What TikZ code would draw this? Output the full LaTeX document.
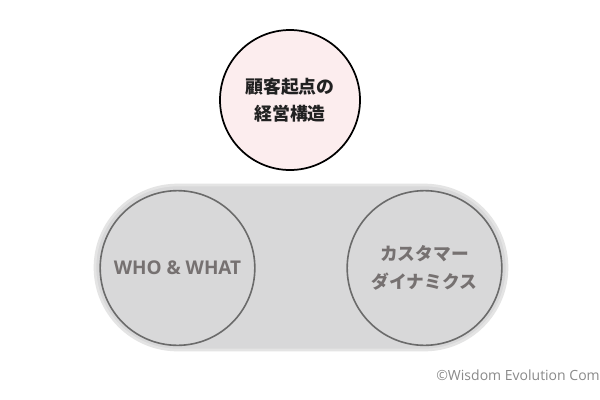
\documentclass[tikz,border=0pt]{standalone}
\usepackage{fontspec}
\setmainfont{Open Sans}
\newfontfamily\jp{Noto Sans CJK JP}
\definecolor{pinkfill}{HTML}{FCEDEE}
\definecolor{stadfill}{HTML}{D8D8D9}
\definecolor{stadedge}{HTML}{E4E4E4}
\definecolor{ringgray}{HTML}{6B6B6B}
\definecolor{txtgray}{HTML}{767171}
\definecolor{copygray}{HTML}{8A8A8A}
\tikzset{
  topcirc/.style={circle, draw=black, line width=1.3pt, fill=pinkfill, minimum size=105pt, inner sep=0pt},
  lowcirc/.style={circle, draw=ringgray, line width=1.2pt, minimum size=116pt, inner sep=0pt},
  toptext/.style={font=\jp\bfseries\fontsize{13.4pt}{20.5pt}\selectfont, text=black!87, align=center},
  lowtext/.style={font=\jp\bfseries\fontsize{13.3pt}{21.5pt}\selectfont, text=txtgray, align=center},
  whotext/.style={font=\bfseries\fontsize{14.2pt}{18pt}\selectfont, text=txtgray},
}
\begin{document}
\begin{tikzpicture}[x=0.75pt,y=-0.75pt]
\useasboundingbox (0,0) rectangle (600,400);
\fill[white] (0,0) rectangle (600,400);
% stadium
\draw[stadedge, fill=stadfill, line width=2pt, rounded corners=82.5*0.75pt]
  (95,185) rectangle (507,350);
\node[topcirc] (top) at (290,100) {};
\node[toptext] (toplbl) at (top.center) {顧客起点の\\経営構造};
\node[lowcirc] (left) at (177.5,268) {};
\node[whotext] (wholbl) at (left.center) {WHO \& WHAT};
\node[lowcirc] (right) at (424.5,268) {};
\node[lowtext] (rightlbl) at (right.center) {カスタマー\\ダイナミクス};
\node[font=\fontsize{10.5pt}{12pt}\selectfont, text=copygray, anchor=east, inner sep=0pt] (copy) at (600,375) {©Wisdom Evolution Com};
\end{tikzpicture}
\end{document}
